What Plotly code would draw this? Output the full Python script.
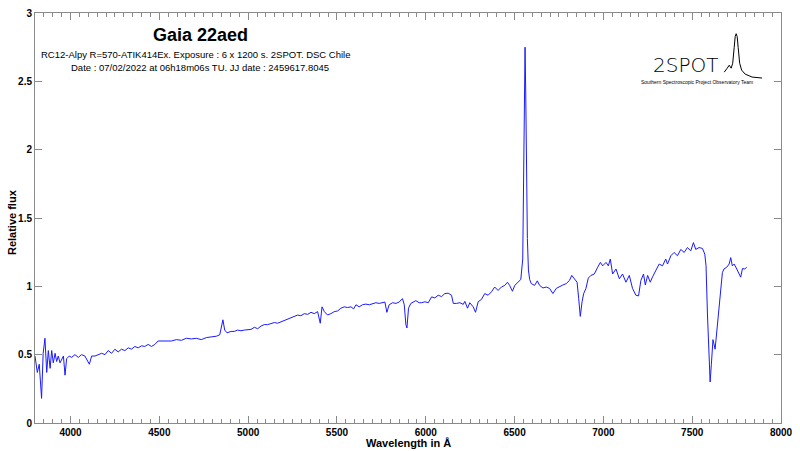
import plotly.graph_objects as go

# ---- data ----
wavelength = [
    3800, 3813, 3824, 3837, 3846, 3856, 3866, 3875, 3885, 3894, 3903, 3913, 3922, 3931, 3941, 3950,
    3960, 3969, 3978, 3993, 4006, 4025, 4044, 4062, 4081, 4106, 4119, 4138, 4156, 4175, 4194, 4212,
    4231, 4250, 4268, 4287, 4306, 4325, 4343, 4362, 4381, 4400, 4418, 4437, 4456, 4475, 4493, 4512,
    4540, 4568, 4596, 4624, 4652, 4680, 4708, 4736, 4765, 4793, 4821, 4840, 4858, 4868, 4881, 4904,
    4922, 4941, 4960, 4979, 4998, 5016, 5035, 5054, 5073, 5091, 5110, 5129, 5148, 5166, 5185, 5204,
    5223, 5241, 5260, 5279, 5297, 5316, 5335, 5354, 5372, 5391, 5406, 5416, 5429, 5447, 5466, 5485,
    5504, 5522, 5541, 5560, 5579, 5594, 5607, 5625, 5644, 5663, 5682, 5700, 5719, 5738, 5757, 5770,
    5781, 5794, 5813, 5832, 5850, 5869, 5879, 5888, 5894, 5903, 5916, 5935, 5944, 5963, 5977, 5995,
    6014, 6033, 6051, 6070, 6089, 6107, 6126, 6145, 6155, 6173, 6192, 6211, 6220, 6235, 6248, 6267,
    6280, 6295, 6314, 6332, 6351, 6370, 6388, 6407, 6426, 6445, 6460, 6472, 6488, 6501, 6520, 6535,
    6546, 6551, 6555, 6559, 6563, 6567, 6572, 6578, 6585, 6594, 6613, 6628, 6641, 6660, 6678, 6697,
    6716, 6735, 6753, 6772, 6791, 6809, 6822, 6837, 6852, 6861, 6870, 6880, 6889, 6902, 6915, 6930,
    6949, 6968, 6983, 6996, 7015, 7028, 7039, 7052, 7071, 7090, 7108, 7127, 7146, 7164, 7183, 7198,
    7211, 7226, 7236, 7249, 7264, 7277, 7295, 7314, 7333, 7351, 7361, 7380, 7398, 7417, 7436, 7455,
    7473, 7492, 7507, 7520, 7539, 7558, 7571, 7578, 7586, 7595, 7601, 7608, 7617, 7629, 7642, 7655,
    7670, 7679, 7694, 7708, 7717, 7726, 7736, 7751, 7764, 7773, 7783, 7796, 7807,
]
flux = [
    0.49, 0.37, 0.43, 0.18, 0.51, 0.62, 0.37, 0.53, 0.40, 0.53, 0.44, 0.51, 0.45, 0.49, 0.44, 0.47,
    0.49, 0.35, 0.47, 0.49, 0.48, 0.50, 0.48, 0.50, 0.49, 0.43, 0.49, 0.49, 0.50, 0.51, 0.50, 0.53,
    0.51, 0.54, 0.52, 0.54, 0.53, 0.55, 0.54, 0.56, 0.55, 0.565, 0.56, 0.575, 0.56, 0.575, 0.60, 0.60,
    0.605, 0.60, 0.61, 0.605, 0.62, 0.615, 0.62, 0.61, 0.625, 0.63, 0.635, 0.645, 0.755, 0.68, 0.66, 0.67,
    0.67, 0.68, 0.675, 0.68, 0.685, 0.685, 0.70, 0.69, 0.71, 0.72, 0.72, 0.73, 0.735, 0.73, 0.74, 0.745,
    0.755, 0.765, 0.78, 0.79, 0.785, 0.80, 0.795, 0.81, 0.80, 0.815, 0.73, 0.85, 0.815, 0.79, 0.80, 0.815,
    0.82, 0.84, 0.85, 0.845, 0.85, 0.835, 0.865, 0.85, 0.865, 0.87, 0.865, 0.875, 0.88, 0.875, 0.88, 0.885,
    0.81, 0.865, 0.88, 0.875, 0.885, 0.91, 0.865, 0.72, 0.695, 0.84, 0.875, 0.885, 0.895, 0.88, 0.88, 0.887,
    0.88, 0.923, 0.915, 0.935, 0.925, 0.947, 0.95, 0.935, 0.875, 0.875, 0.88, 0.868, 0.89, 0.84, 0.88, 0.85,
    0.81, 0.887, 0.905, 0.947, 0.935, 0.96, 0.995, 0.97, 0.995, 1.007, 1.03, 1.007, 0.964, 1.007, 1.03, 1.05,
    1.2, 1.7, 2.3, 2.75, 2.4, 1.8, 1.35, 1.12, 1.05, 1.02, 1.007, 1.04, 1.007, 0.988, 0.995, 0.985,
    0.947, 0.985, 1.0, 1.01, 1.02, 1.043, 1.08, 1.05, 1.03, 0.91, 0.78, 0.887, 0.947, 0.985, 1.06, 1.08,
    1.09, 1.14, 1.175, 1.15, 1.175, 1.15, 1.2, 1.09, 1.127, 1.055, 1.09, 1.03, 1.08, 0.985, 0.935, 0.93,
    1.043, 1.09, 1.01, 1.08, 1.03, 1.07, 1.115, 1.163, 1.15, 1.2, 1.163, 1.224, 1.248, 1.224, 1.27, 1.248,
    1.284, 1.26, 1.32, 1.27, 1.284, 1.277, 1.235, 1.15, 0.79, 0.43, 0.30, 0.43, 0.61, 0.54, 0.72, 0.91,
    1.10, 1.127, 1.139, 1.163, 1.21, 1.15, 1.163, 1.127, 1.09, 1.067, 1.13, 1.127, 1.139,
]

x_ticks = [4000, 4500, 5000, 5500, 6000, 6500, 7000, 7500, 8000]
y_ticks = [0, 0.5, 1, 1.5, 2, 2.5, 3]
y_tick_labels = ["0", "0.5", "1", "1.5", "2", "2.5", "3"]

title_text = "Gaia 22aed"
subtitle_1 = "RC12-Alpy R=570-ATIK414Ex. Exposure : 6 x 1200 s. 2SPOT. DSC Chile"
subtitle_2 = "Date : 07/02/2022 at 06h18m06s TU. JJ date : 2459617.8045"

W, H = 800, 451
ML, MR, MT, MB = 35, 16, 7, 28
PW, PH = W - ML - MR, H - MT - MB


def paper(px, py):
    return (px - ML) / PW, (H - MB - py) / PH


fig = go.Figure()
fig.add_trace(go.Scatter(x=wavelength, y=flux, mode="lines",
                         line=dict(color="#1a1aff", width=1), showlegend=False,
                         hoverinfo="skip"))

FONT = "Liberation Sans, Arial, Helvetica, sans-serif"
axis_common = dict(showgrid=False, zeroline=False, showline=True, linecolor="#8a8a8a",
                   linewidth=1, mirror="ticks", ticks="inside", tickcolor="#8a8a8a",
                   tickfont=dict(family=FONT, size=10, color="black", weight="bold"))

fig.update_xaxes(range=[3800, 8000], tickvals=x_ticks, ticklen=7, tickwidth=1,
                 minor=dict(dtick=50, ticklen=4, ticks="inside", tickcolor="#8a8a8a"),
                 **axis_common)
fig.update_yaxes(range=[0, 3], tickvals=y_ticks, ticktext=y_tick_labels, ticklen=7,
                 tickwidth=1, **axis_common)

ann = []
ann.append(dict(text=title_text, x=paper(201, 29)[0], y=paper(201, 29)[1],
                xref="paper", yref="paper", showarrow=False, xanchor="center", yanchor="middle",
                font=dict(family=FONT, size=18, color="black", weight="bold")))
ann.append(dict(text=subtitle_1, x=paper(197, 49)[0], y=paper(197, 49)[1],
                xref="paper", yref="paper", showarrow=False, xanchor="center", yanchor="middle",
                font=dict(family=FONT, size=9.5, color="black")))
ann.append(dict(text=subtitle_2, x=paper(201, 62)[0], y=paper(201, 62)[1],
                xref="paper", yref="paper", showarrow=False, xanchor="center", yanchor="middle",
                font=dict(family=FONT, size=9.5, color="black")))
ann.append(dict(text="Wavelength in Å", x=paper(410, 443)[0], y=paper(410, 443)[1],
                xref="paper", yref="paper", showarrow=False, xanchor="center", yanchor="middle",
                font=dict(family=FONT, size=11, color="black", weight="bold")))
ann.append(dict(text="Relative flux", x=paper(12, 219)[0], y=paper(12, 219)[1], textangle=-90,
                xref="paper", yref="paper", showarrow=False, xanchor="center", yanchor="middle",
                font=dict(family=FONT, size=11, color="black", weight="bold")))
# logo text
ann.append(dict(text="2SPOT", x=paper(688, 60)[0], y=paper(688, 60)[1],
                xref="paper", yref="paper", showarrow=False, xanchor="center", yanchor="middle",
                font=dict(family="DejaVu Sans, sans-serif", size=20, color="black", weight=300)))
ann.append(dict(text="Southern Spectroscopic Project Observatory Team",
                x=paper(700, 77)[0], y=paper(700, 77)[1],
                xref="paper", yref="paper", showarrow=False, xanchor="center", yanchor="middle",
                font=dict(family=FONT, size=5, color="black")))
fig.update_layout(annotations=ann)

# logo curve (decoration)
logo_pts = [(727, 67), (730, 63), (732, 60), (734, 63), (735.5, 58), (737, 42), (738, 31),
            (739, 28), (740, 31), (741, 42), (742.5, 58), (744.5, 65), (748, 69), (755, 72),
            (765, 73)]
path = ""
for i, (px, py) in enumerate(logo_pts):
    X, Y = paper(px, py)
    path += ("M" if i == 0 else "L") + f"{X:.5f},{Y:.5f} "
fig.add_shape(type="path", path=path.strip(), xref="paper", yref="paper",
              line=dict(color="black", width=1))

fig.update_layout(width=W, height=H, margin=dict(l=ML, r=MR, t=MT, b=MB),
                  paper_bgcolor="white", plot_bgcolor="white")

fig.write_html("out.html", config={"displayModeBar": False},
               post_script="document.body.style.margin='0px';document.body.style.padding='0px';")
